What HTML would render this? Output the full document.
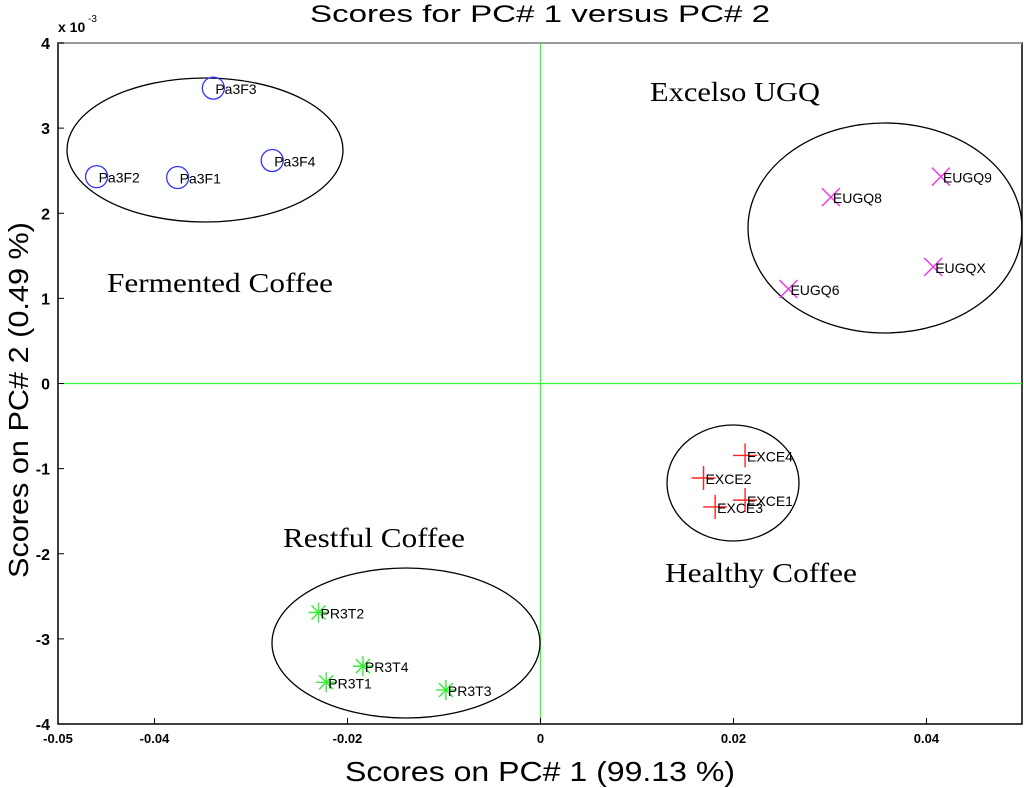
<!DOCTYPE html>
<html><head><meta charset="utf-8"><style>
body{margin:0;background:#fff;width:1024px;height:788px;overflow:hidden}
svg{display:block;font-family:"Liberation Sans",Arial,sans-serif}
</style></head><body>
<svg id="chart" width="1024" height="788" viewBox="0 0 1024 788"></svg>
<script>
const xTicks=[-0.05,-0.04,-0.02,0,0.02,0.04];
const xTickLabels=["-0.05","-0.04","-0.02","0","0.02","0.04"];
const yTicks=[-4,-3,-2,-1,0,1,2,3,4];
const yTickLabels=["-4","-3","-2","-1","0","1","2","3","4"];
const fermLabels=["Pa3F3","Pa3F2","Pa3F1","Pa3F4"];
const fermX=[-0.0339,-0.046,-0.0376,-0.0278];
const fermY=[3.47,2.43,2.42,2.62];
const eugqLabels=["EUGQ8","EUGQ9","EUGQX","EUGQ6"];
const eugqX=[0.0301,0.0415,0.0407,0.0257];
const eugqY=[2.19,2.43,1.37,1.11];
const exceLabels=["EXCE4","EXCE2","EXCE3","EXCE1"];
const exceX=[0.0212,0.0169,0.0181,0.0212];
const exceY=[-0.845,-1.11,-1.45,-1.37];
const prLabels=["PR3T2","PR3T4","PR3T1","PR3T3"];
const prX=[-0.023,-0.0184,-0.0222,-0.0098];
const prY=[-2.69,-3.32,-3.51,-3.60];

const L=58,R=1022,T=43,B=724;
const xMin=-0.05,xMax=0.0499,yMin=-4,yMax=4;
const sx=v=>L+(v-xMin)/(xMax-xMin)*(R-L);
const sy=v=>B-(v-yMin)/(yMax-yMin)*(B-T);
const svg=document.getElementById('chart');
const NS='http://www.w3.org/2000/svg';
function el(tag,attrs,parent){const e=document.createElementNS(NS,tag);for(const k in attrs)e.setAttribute(k,attrs[k]);(parent||svg).appendChild(e);return e;}
function txt(x,y,s,attrs){const e=el('text',Object.assign({x:x,y:y},attrs));e.textContent=s;return e;}

let e;
e=el('rect',{x:L,y:T,width:R-L,height:B-T,fill:'#fff',stroke:'#000','stroke-width':1.5});


e=el('line',{x1:L,y1:T,x2:R,y2:T,stroke:'#999','stroke-width':2});


e=el('line',{x1:sx(0),y1:T,x2:sx(0),y2:B,stroke:'#3f3','stroke-width':1.3});


e=el('line',{x1:L,y1:sy(0),x2:R,y2:sy(0),stroke:'#3f3','stroke-width':1.3});



xTicks.forEach((v,i)=>{
 e=el('line',{x1:sx(v),y1:B,x2:sx(v),y2:B-6,stroke:'#000'});
 
 
 e=txt(sx(v),B+19,xTickLabels[i],{'text-anchor':'middle','font-size':13,'font-weight':'bold'});
 
 
});
yTicks.forEach((v,i)=>{
 e=el('line',{x1:L,y1:sy(v),x2:L+6,y2:sy(v),stroke:'#000'});
 
 
 e=txt(L-8,sy(v)+6,yTickLabels[i],{'text-anchor':'end','font-size':16,'font-weight':'bold'});
 
 
});
e=txt(58,32,'x 10',{'font-size':14,'font-weight':'bold'});


e=txt(88,22,'-3',{'font-size':10});



e=txt(310,22,'Scores for PC# 1 versus PC# 2',{'font-size':24,'textLength':460,'lengthAdjust':'spacingAndGlyphs'});


e=txt(345,781,'Scores on PC# 1  (99.13 %)',{'font-size':28,'textLength':390,'lengthAdjust':'spacingAndGlyphs','xml:space':'preserve'});


e=txt(-178,0,'Scores on PC# 2  (0.49 %)',{'font-size':28,'textLength':356,'lengthAdjust':'spacingAndGlyphs','transform':'translate(28,400) rotate(-90)','xml:space':'preserve'});



[[205,150,138,72,'ellipse-fermented'],[885,228,137,105,'ellipse-excelso'],[733,483,66,58,'ellipse-healthy'],[406,643,134,75,'ellipse-restful']].forEach(a=>{
 e=el('ellipse',{cx:a[0],cy:a[1],rx:a[2],ry:a[3],fill:'none',stroke:'#000','stroke-width':1.3});
 
 
});

function labelPt(x,y,s,name){e=txt(x+2,y+6,s,{'font-size':14,fill:'#000'});
 
 }
fermX.forEach((v,i)=>{const x=sx(v),y=sy(fermY[i]);
 e=el('circle',{cx:x,cy:y,r:11,fill:'none',stroke:'#33f','stroke-width':1.3});
 
 
 labelPt(x,y,fermLabels[i],'point-label');});
eugqX.forEach((v,i)=>{const x=sx(v),y=sy(eugqY[i]);
 e=el('path',{d:`M${x-9},${y-9}L${x+9},${y+9}M${x-9},${y+9}L${x+9},${y-9}`,stroke:'#e3e','stroke-width':1.4});
 
 
 labelPt(x,y,eugqLabels[i],'point-label');});
exceX.forEach((v,i)=>{const x=sx(v),y=sy(exceY[i]);
 e=el('path',{d:`M${x-12},${y}L${x+12},${y}M${x},${y-12}L${x},${y+12}`,stroke:'#f22','stroke-width':1.4});
 
 
 labelPt(x,y,exceLabels[i],'point-label');});
prX.forEach((v,i)=>{const x=sx(v),y=sy(prY[i]);
 e=el('path',{d:`M${x-10},${y}L${x+10},${y}M${x},${y-10}L${x},${y+10}M${x-7},${y-7}L${x+7},${y+7}M${x-7},${y+7}L${x+7},${y-7}`,stroke:'#3e3','stroke-width':1.4});
 
 
 labelPt(x,y,prLabels[i],'point-label');});

[[650,101,'Excelso UGQ',170],[107,292,'Fermented Coffee',226],[283,547,'Restful Coffee',182],[665,582,'Healthy Coffee',192]].forEach(a=>{
 e=txt(a[0],a[1],a[2],{'font-size':27,'font-family':'"Liberation Serif",serif','textLength':a[3],'lengthAdjust':'spacingAndGlyphs'});
 
 
});
</script>
</body></html>
